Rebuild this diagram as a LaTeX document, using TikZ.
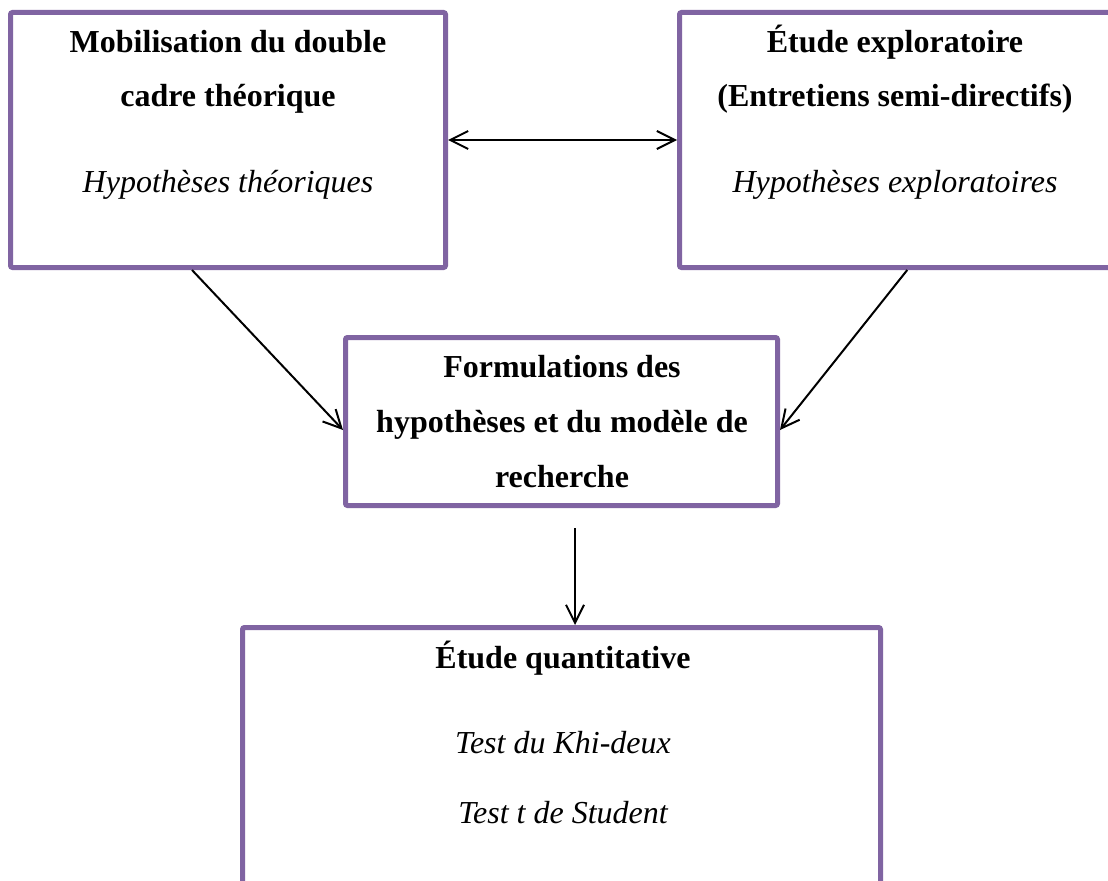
\documentclass[tikz,border=0pt]{standalone}
\usepackage{fontspec}
\setmainfont{Liberation Serif}
\usetikzlibrary{arrows.meta,fit,calc}
\definecolor{boxpurple}{HTML}{8064A2}
\begin{document}
\begin{tikzpicture}[x=0.75pt,y=-0.75pt,
  box/.style={draw=boxpurple,line width=3.75pt,rounded corners=1.5pt,inner sep=0pt},
  txt/.style={anchor=base,inner sep=0pt},
  bftxt/.style={txt,font=\fontsize{24}{28}\selectfont\bfseries},
  ittxt/.style={txt,font=\fontsize{24}{28}\selectfont\itshape},
  arr/.style={line width=1.5pt,draw=black,-{Straight Barb[length=13.5pt,width=13.5pt]}},
  darr/.style={line width=1.5pt,draw=black,{Straight Barb[length=13.5pt,width=13.5pt]}-{Straight Barb[length=13.5pt,width=13.5pt]}}]
\useasboundingbox (0,0) rectangle (1108,881);
\fill[white] (0,0) rectangle (1108,881);
\clip (0,0) rectangle (1108,881);

% boxes
\node[box,fit={(10.5,12.5) (445.5,267.5)}] (A) {};
\node[box,fit={(679.5,12.5) (1115,267.5)}] (B) {};
\node[box,fit={(345.5,337.5) (777.5,505.5)}] (C) {};
\node[box,fit={(242.5,627.5) (880.5,905)}] (D) {};

% texts
\node[bftxt] (a1) at (228,53) {Mobilisation du double};
\node[bftxt] (a2) at (228,107) {cadre théorique};
\node[ittxt] (a3) at (228,193) {Hypothèses théoriques};

\node[bftxt] (b1) at (895,53) {Étude exploratoire};
\node[bftxt] (b2) at (895,107) {(Entretiens semi-directifs)};
\node[ittxt] (b3) at (895,193) {Hypothèses exploratoires};

\node[bftxt] (c1) at (562,377) {Formulations des};
\node[bftxt] (c2) at (562,432) {hypothèses et du modèle de};
\node[bftxt] (c3) at (562,487) {recherche};

\node[bftxt] (d1) at (563,668) {Étude quantitative};
\node[ittxt] (d2) at (563,753) {Test du Khi-deux};
\node[ittxt] (d3) at (563,823) {Test t de Student};

% connectors
\draw[darr] (A.east) -- (B.west);
\draw[arr] ($(A.south)+(-36,0)$) -- ($(C.west)+(0,8.5)$);
\draw[arr] ($(B.south)+(10,0)$) -- ($(C.east)+(0,8.5)$);
\draw[arr] ($(C.south)+(13.5,20)$) -- ($(D.north)+(13.5,0)$);
\end{tikzpicture}
\end{document}
